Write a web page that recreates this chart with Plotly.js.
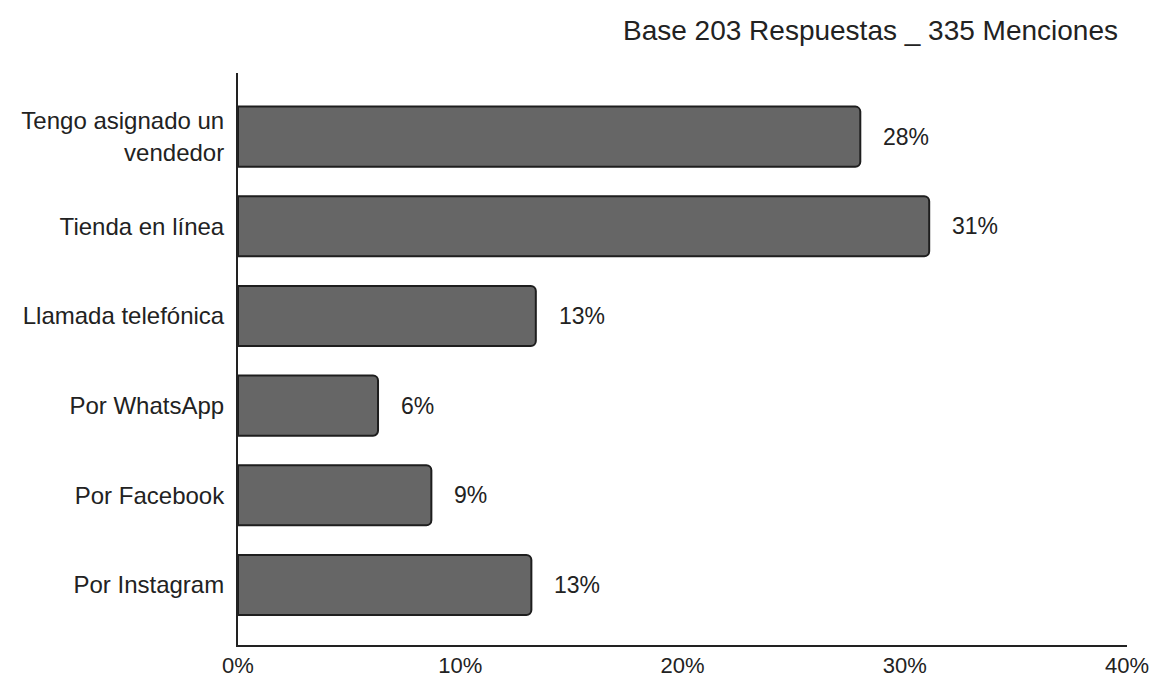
<!DOCTYPE html>
<html>
<head>
<meta charset="utf-8">
<script src="https://cdn.plot.ly/plotly-3.0.1.min.js"></script>
<style>html,body{margin:0;padding:0;background:#fff;}#chart{width:1152px;height:680px;}</style>
</head>
<body>
<div id="chart"></div>
<script>
// Categories listed bottom to top
const categories = ["Por Instagram", "Por Facebook", "Por WhatsApp", "Llamada telefónica", "Tienda en línea", "Tengo asignado un<br>vendedor"];
const values = [13.2, 8.7, 6.3, 13.4, 31.1, 28.0];
const valueLabels = ["13%", "9%", "6%", "13%", "31%", "28%"];
const xTickVals = [0, 10, 20, 30, 40];
const xTickText = ["0%", "10%", "20%", "30%", "40%"];
const titleText = "Base 203 Respuestas _ 335 Menciones";

const FONT = "'Liberation Sans', Arial, sans-serif";
const idx = categories.map((_, i) => i);

const trace = {
  type: "bar",
  orientation: "h",
  x: values,
  y: idx,
  marker: {color: "#666666", line: {color: "#1e1e1e", width: 2}, cornerradius: 5},
  width: 0.67,
  hoverinfo: "skip"
};

const annotations = values.map((v, i) => ({
  x: v, y: i, xref: "x", yref: "y",
  text: valueLabels[i], showarrow: false,
  xanchor: "left", xshift: 21,
  font: {family: FONT, size: 23, color: "#222"}
}));
annotations.push({
  xref: "paper", yref: "paper", x: 1, y: 1, xshift: -7, yshift: 43,
  xanchor: "right", yanchor: "middle",
  text: titleText, showarrow: false,
  font: {family: FONT, size: 28, color: "#222"}
});

const layout = {
  width: 1152, height: 680,
  margin: {l: 238, r: 25, t: 73, b: 35},
  paper_bgcolor: "#fff", plot_bgcolor: "#fff",
  showlegend: false,
  font: {family: FONT, size: 22, color: "#222"},
  xaxis: {
    range: [0, 40], tickvals: xTickVals, ticktext: xTickText,
    tickfont: {family: FONT, size: 22, color: "#222"},
    showgrid: false, zeroline: false, showline: true, linecolor: "#222", linewidth: 2,
    ticks: "", fixedrange: true
  },
  yaxis: {
    range: [-0.67, 5.71], tickvals: idx, ticktext: categories,
    tickfont: {family: FONT, size: 24, color: "#222"},
    showgrid: false, zeroline: false, showline: true, linecolor: "#222", linewidth: 2,
    ticks: "", ticklabelstandoff: 7, fixedrange: true
  },
  annotations: annotations
};

Plotly.newPlot("chart", [trace], layout, {staticPlot: true, displayModeBar: false});
</script>
</body>
</html>
